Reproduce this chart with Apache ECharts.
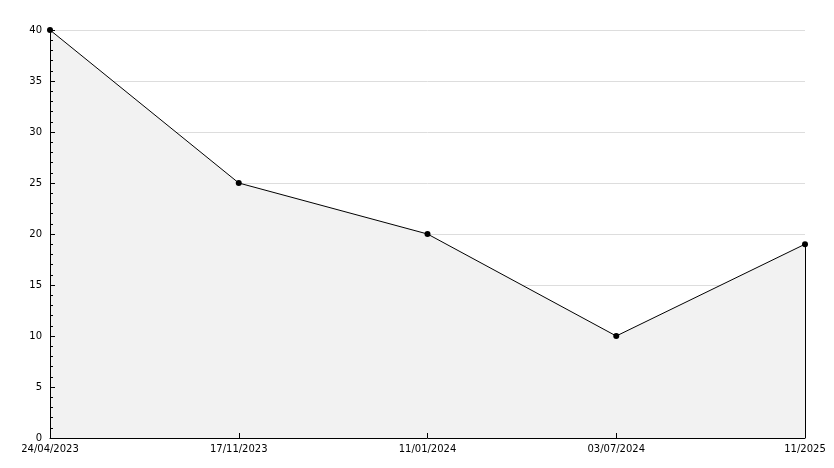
<!DOCTYPE html>
<html><head><meta charset="utf-8">
<script src="https://cdn.jsdelivr.net/npm/echarts@6/dist/echarts.min.js"></script>
<style>html,body{margin:0;padding:0;background:#fff}#c{width:834px;height:468px}</style>
</head><body><div id="c"></div>
<script>
const categories = ['24/04/2023', '17/11/2023', '11/01/2024', '03/07/2024', '11/2025'];
const values = [40, 25, 20, 10, 19];
const yTicks = [0, 5, 10, 15, 20, 25, 30, 35, 40];

const chart = echarts.init(document.getElementById('c'));
const font = { fontFamily: 'DejaVu Sans', fontSize: 10, color: '#000' };
const lastIdx = categories.length - 1;
const yMin = yTicks[0], yMax = yTicks[yTicks.length - 1];
chart.setOption({
  animation: false,
  grid: { left: 50, right: 29, top: 30, bottom: 30 },
  xAxis: {
    type: 'category', data: categories, boundaryGap: false, z: 10,
    axisLine: { lineStyle: { color: '#000', width: 1 } },
    axisTick: { inside: true, length: 5, lineStyle: { color: '#000' } },
    axisLabel: Object.assign({ margin: 6, showMinLabel: true, showMaxLabel: true, interval: 0 }, font),
    splitLine: { show: false }
  },
  yAxis: [{
    type: 'value', min: yMin, max: yMax, interval: 5, z: 0,
    axisLine: { show: false },
    axisTick: { show: false },
    axisLabel: Object.assign({ margin: 8 }, font),
    splitLine: { show: true, lineStyle: { color: '#dddddd', width: 1 } }
  }, {
    type: 'value', min: yMin, max: yMax, interval: 5, z: 10, position: 'left',
    axisLine: { show: true, onZero: false, lineStyle: { color: '#000', width: 1 } },
    axisTick: { show: true, inside: true, length: 5, lineStyle: { color: '#000' } },
    minorTick: { show: true, splitNumber: 5, length: 3, lineStyle: { color: '#000' } },
    axisLabel: { show: false },
    splitLine: { show: false }
  }],
  series: [{
    type: 'line', data: values, z: 3, yAxisIndex: 0,
    lineStyle: { color: '#000', width: 1 },
    itemStyle: { color: '#000' },
    symbol: 'circle', symbolSize: 6,
    areaStyle: { color: '#f2f2f2', opacity: 1 },
    markLine: {
      silent: true, symbol: 'none', label: { show: false },
      lineStyle: { color: '#000', width: 1, type: 'solid' },
      data: [[{ coord: [lastIdx, 0] }, { coord: [lastIdx, values[lastIdx]] }]]
    }
  }]
});
</script></body></html>
